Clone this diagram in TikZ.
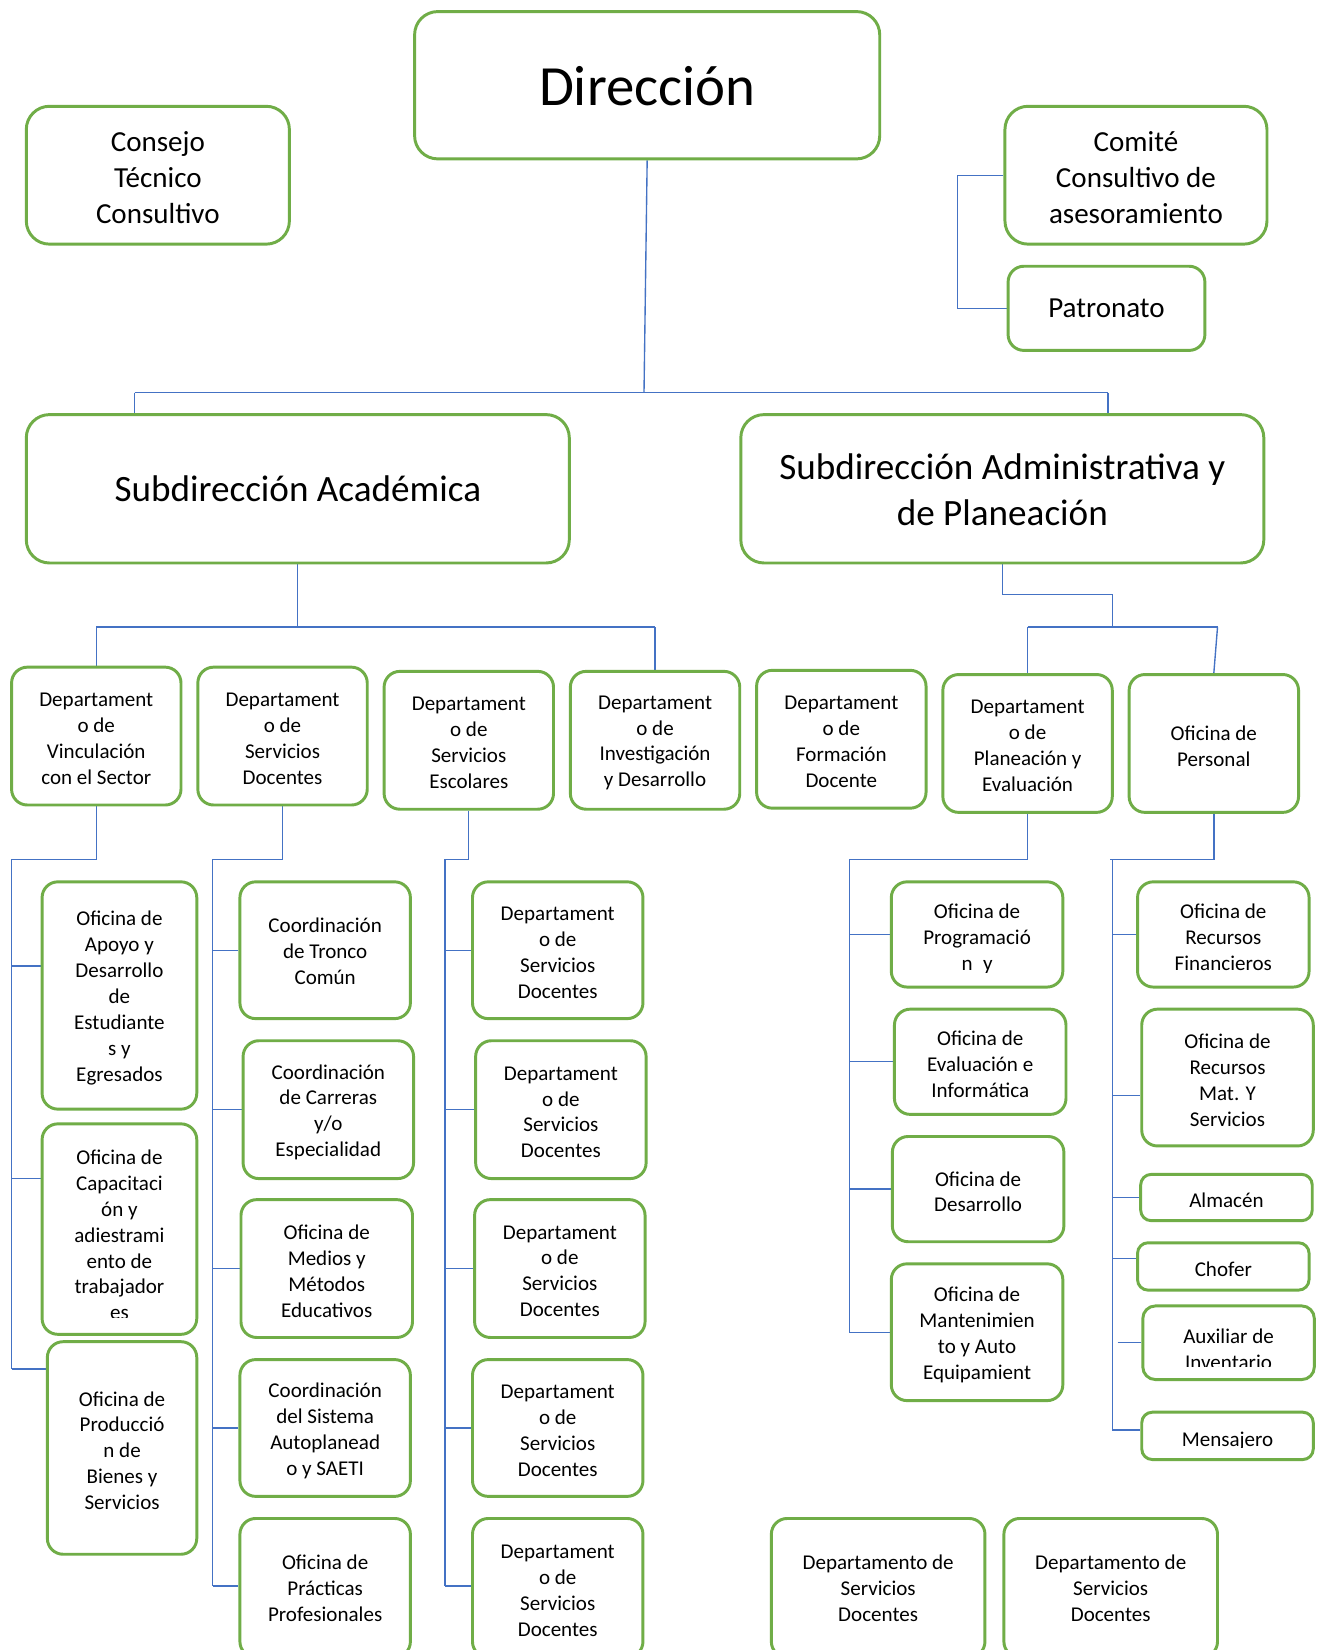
\documentclass[tikz,border=0pt]{standalone}
\usepackage{fontspec}
\setmainfont{Carlito}
\usetikzlibrary{backgrounds}
\definecolor{boxgreen}{HTML}{70AD47}
\definecolor{lineblue}{HTML}{4472C4}
\newcommand{\myfsS}{\fontsize{20}{24.6}\selectfont}
\newcommand{\myfsL}{\fontsize{27.6}{34.2}\selectfont}
\newcommand{\myfsX}{\fontsize{35.3}{43}\selectfont}
\newcommand{\myfsH}{\fontsize{54}{60}\selectfont}
\tikzset{
  box/.style={draw=boxgreen, line width=2.8pt, rounded corners=15pt, fill=white, inner sep=0pt},
  bigbox/.style={box, rounded corners=22pt},
  conn/.style={draw=lineblue, line width=1.3pt},
  txt/.style={align=center, inner sep=0pt, text=black, font=\myfsS, yshift=-2.5pt},
  big/.style={font=\myfsL},
  sz/.style 2 args={minimum width=#1pt, minimum height=#2pt},
}
% \bx[text options]{box options}{name}{position}{text}
\newcommand{\bx}[5][]{%
  \node[box,#2] (#3) at (#4) {};
  \node[txt,#1] (#3t) at (#3.center) {#5};}
\begin{document}
\begin{tikzpicture}[x=1pt,y=-1pt]
\useasboundingbox (0,0) rectangle (1253.5,1568);

% ---------- top level ----------
\bx[font=\myfsH, yshift=1.5pt]{bigbox, sz={442}{140}}{dir}{615,81}{Dirección}
\bx[big]{bigbox, sz={250}{131}}{consejo}{150,166.5}{Consejo\\Técnico\\Consultivo}
\bx[big]{bigbox, sz={249}{131}}{comite}{1079.5,166.5}{Comité\\Consultivo de\\asesoramiento}
\bx[big, yshift=2.5pt]{bigbox, sz={187}{80}, rounded corners=15pt}{patro}{1051.5,293}{Patronato}
\bx[font=\myfsX, yshift=2.5pt]{bigbox, sz={516}{141}}{sacad}{283,464.5}{Subdirección Académica}
\bx[font=\myfsX, yshift=1.5pt]{bigbox, sz={497}{141}}{sadm}{952.5,464.5}{Subdirección Administrativa y\\de Planeación}

% ---------- department row ----------
\bx{sz={161}{131}}{d1}{91.5,699.5}{Departament\\o de\\Vinculación\\con el Sector}
\bx{sz={161}{131}}{d2}{268.5,699.5}{Departament\\o de\\Servicios\\Docentes}
\bx{sz={161}{131}}{d3}{445.5,703.5}{Departament\\o de\\Servicios\\Escolares}
\bx{sz={161}{131}}{d4}{622.5,703.5}{Departament\\o de\\Investigación\\y Desarrollo}
\bx{sz={161}{131}}{d5}{799.5,702.5}{Departament\\o de\\Formación\\Docente}
\bx{sz={161}{131}}{d6}{976.5,706.5}{Departament\\o de\\Planeación y\\Evaluación}
\bx{sz={161}{131}}{d7}{1153.5,706.5}{Oficina de\\Personal}

% ---------- column 1 ----------
\bx{sz={147}{216}}{a1}{113.5,946}{Oficina de\\Apoyo y\\Desarrollo\\de\\Estudiante\\s y\\Egresados}
\node[box, sz={147}{200}] (a2) at (113.5,1168) {};
\begin{scope}
  \clip ([yshift=17pt]a2.south west) rectangle (a2.north east);
  \node[txt] (a2t) at (113.5,1171) {Oficina de\\Capacitaci\\ón y\\adiestrami\\ento de\\trabajador\\es};
\end{scope}
\bx{sz={142}{202}}{a3}{116,1376}{Oficina de\\Producció\\n de\\Bienes y\\Servicios}

% ---------- column 2 ----------
\bx[yshift=1.5pt]{sz={162}{130}}{b1}{309,903}{Coordinación\\de Tronco\\Común}
\bx{sz={162}{131}}{b2}{312,1054.5}{Coordinación\\de Carreras\\y/o\\Especialidad}
\bx{sz={163}{131}}{b3}{310.5,1205.5}{Oficina de\\Medios y\\Métodos\\Educativos}
\bx{sz={162}{130}}{b4}{309,1357}{Coordinación\\del Sistema\\Autoplanead\\o y SAETI}
\bx[yshift=2.5pt]{sz={162}{132}}{b5}{309,1509}{Oficina de\\Prácticas\\Profesionales}

% ---------- column 3 ----------
\bx{sz={162}{130}}{c1}{530,903}{Departament\\o de\\Servicios\\Docentes}
\bx{sz={162}{131}}{c2}{533,1054.5}{Departament\\o de\\Servicios\\Docentes}
\bx{sz={162}{131}}{c3}{532,1205.5}{Departament\\o de\\Servicios\\Docentes}
\bx{sz={162}{130}}{c4}{530,1357}{Departament\\o de\\Servicios\\Docentes}
\bx{sz={162}{132}}{c5}{530,1509}{Departament\\o de\\Servicios\\Docentes}

% ---------- planeacion column ----------
\node[box, sz={163}{100}] (p1) at (928.5,888) {};
\begin{scope}
  \clip ([yshift=15pt]p1.south west) rectangle (p1.north east);
  \node[txt] (p1t) at (928.5,890) {Oficina de\\Programació\\n\hspace{0.5em}y};
\end{scope}
\bx{sz={163}{100}}{p2}{931.5,1009}{Oficina de\\Evaluación e\\Informática}
\bx{sz={163}{100}}{p3}{929.5,1130}{Oficina de\\Desarrollo}
\bx{sz={163}{130}}{p4}{928.5,1266}{Oficina de\\Mantenimien\\to y Auto\\Equipamient}

% ---------- personal column ----------
\bx{sz={163}{100}}{q1}{1162.5,888}{Oficina de\\Recursos\\Financieros}
\bx{sz={163}{130}}{q2}{1166.5,1024}{Oficina de\\Recursos\\Mat. Y\\Servicios}
\bx{sz={163}{44}, rounded corners=10pt}{q3}{1165.5,1138}{Almacén}
\bx{sz={163}{45}, rounded corners=10pt}{q4}{1162.5,1203.5}{Chofer}
\node[box, sz={163}{70}, rounded corners=12pt] (q5) at (1167.5,1276) {};
\begin{scope}
  \clip ([yshift=14pt]q5.south west) rectangle (q5.north east);
  \node[txt] (q5t) at (1167.5,1279.5) {Auxiliar de\\Inventario};
\end{scope}
\node[box, sz={163}{45}, rounded corners=10pt] (q6) at (1166.5,1364.5) {};
\begin{scope}
  \clip ([yshift=13pt]q6.south west) rectangle (q6.north east);
  \node[txt] (q6t) at (1166.5,1367) {Mensajero};
\end{scope}

% ---------- bottom ----------
\bx[yshift=2.5pt]{sz={203}{132}}{e1}{834.5,1509}{Departamento de\\Servicios\\Docentes}
\bx[yshift=2.5pt]{sz={203}{132}}{e2}{1055.5,1509}{Departamento de\\Servicios\\Docentes}

% ---------- connectors ----------
\begin{scope}[on background layer]
\fill[white] (0,0) rectangle (1253.5,1568);
\coordinate (hubL) at (128,373);
\coordinate (hubR) at (1053,373);
\coordinate (hubM) at (612,373);
\draw[conn] (dir.south) -- (hubM);
\draw[conn] (hubL) -- (hubR);
\draw[conn] (hubL) -- (hubL |- sacad.north);
\draw[conn] (hubR) -- (hubR |- sadm.north);

\coordinate (cpk) at (910,167);
\draw[conn] (comite.west) -- (comite.west -| cpk) |- (patro.west);

\coordinate (acL) at (91.5,596);
\coordinate (acR) at (622.5,596);
\draw[conn] (sacad.south) -- (sacad.south |- acL);
\draw[conn] (acL) -- (acR);
\draw[conn] (acL) -- (d1.north);
\draw[conn] (acR) -- (d4.north);

\coordinate (adA) at (1057,565);
\coordinate (adL) at (976.5,596);
\coordinate (adR) at (1157,596);
\draw[conn] (sadm.south) |- (adA) -- (adA |- adL);
\draw[conn] (adL) -- (adR);
\draw[conn] (adL) -- (d6.north);
\draw[conn] (adR) -- (d7.north);

% column 1
\coordinate (t1) at (11,817);
\draw[conn] (d1.south) |- (t1) -- (11,1301);
\draw[conn] (11,918) -- ([yshift=28pt]a1.west);
\draw[conn] (11,1120) -- ([yshift=48pt]a2.west);
\draw[conn] (11,1301) -- ([yshift=75pt]a3.west);

% column 2
\coordinate (t2) at (202,817);
\draw[conn] (d2.south) |- (t2) -- (202,1507);
\foreach \n in {b1,b2,b3,b4} \draw[conn] (\n.west -| t2) -- (\n.west);
\draw[conn] (202,1507) -- ([yshift=2pt]b5.west);

% column 3
\coordinate (t3) at (423,817);
\draw[conn] (d3.south) |- (t3) -- (423,1507);
\foreach \n in {c1,c2,c3,c4} \draw[conn] (\n.west -| t3) -- (\n.west);
\draw[conn] (423,1507) -- ([yshift=2pt]c5.west);

% planeacion
\coordinate (t4) at (807,817);
\draw[conn] (d6.south) |- (t4) -- (807,1266);
\foreach \n in {p1,p2,p3,p4} \draw[conn] (\n.west -| t4) -- (\n.west);

% personal
\coordinate (t5) at (1055,817);
\coordinate (t6) at (1057,817);
\draw[conn] (d7.south) |- (t5);
\draw[conn] (t6) -- (1057,1359);
\draw[conn] (q1.west -| t6) -- (q1.west);
\draw[conn] (1057,1041) -- ([yshift=-17pt]q2.west);
\draw[conn] (q3.west -| t6) -- (q3.west);
\draw[conn] (1057,1196) -- ([yshift=7.5pt]q4.west);
\draw[conn] (1062,1276) -- (q5.west);
\draw[conn] (1057,1359) -- ([yshift=5.5pt]q6.west);
\end{scope}
\end{tikzpicture}
\end{document}
